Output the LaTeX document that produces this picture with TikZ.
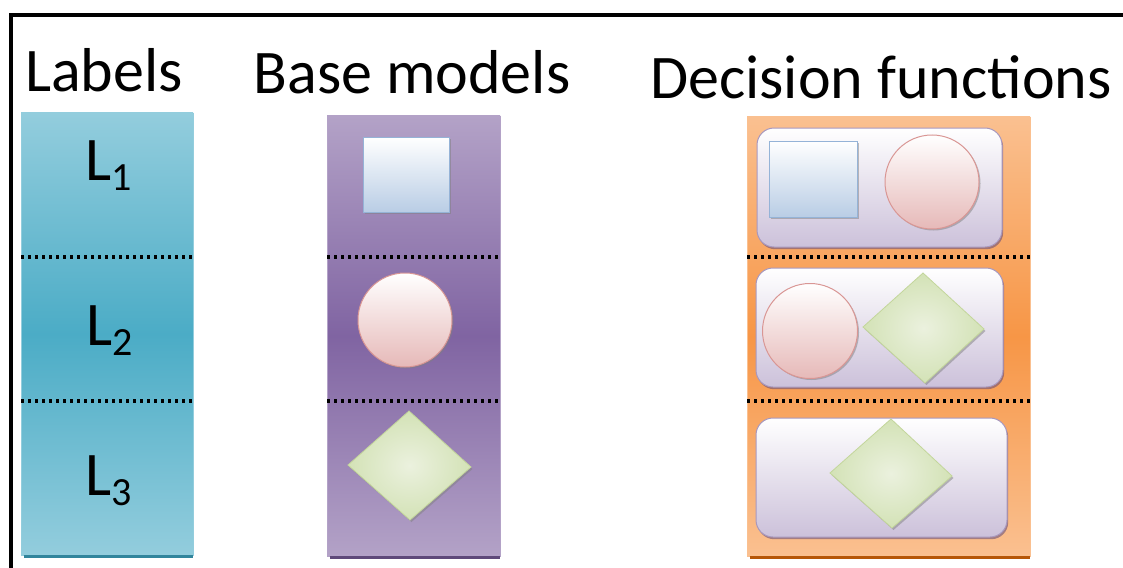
\documentclass[tikz,border=0pt]{standalone}
\usepackage{fontspec}
\setmainfont{Carlito}
\usetikzlibrary{shadows}
\definecolor{labTop}{HTML}{93CDDD}
\definecolor{labMid}{HTML}{4BACC6}
\definecolor{labDark}{HTML}{31859C}
\definecolor{purTop}{HTML}{B3A2C7}
\definecolor{purMid}{HTML}{8064A2}
\definecolor{purDark}{HTML}{5F497A}
\definecolor{orTop}{HTML}{FAC090}
\definecolor{orMid}{HTML}{F79646}
\definecolor{orDark}{HTML}{B65708}
\definecolor{sqBot}{HTML}{B9CDE5}
\definecolor{sqLine}{HTML}{95B3D7}
\definecolor{ciBot}{HTML}{E6B9B8}
\definecolor{ciLine}{HTML}{D99694}
\definecolor{diIn}{HTML}{EBF1DE}
\definecolor{diOut}{HTML}{D3E2B6}
\definecolor{diLine}{HTML}{C3D69B}
\definecolor{rrBot}{HTML}{CCC1DA}
\definecolor{rrLine}{HTML}{A898BE}
\newcommand\Lsub[1]{L\raisebox{-10pt}{\fontsize{40}{40}\selectfont #1}}
\begin{document}
\begin{tikzpicture}[x=1pt,y=-1pt,
  title/.style={anchor=base, inner sep=0pt, font=\fontsize{62}{70}\selectfont},
  lab/.style={anchor=base west, inner sep=0pt, font=\fontsize{62}{70}\selectfont},
  colbox/.style={rectangle, inner sep=0pt, draw=#1Mid!60!white, line width=0.8pt,
    top color=#1Top, bottom color=#1Top, middle color=#1Mid},
  dotline/.style={line width=3.4pt, dash pattern=on 3.4pt off 3.6pt, black},
  colfoot/.style={line width=3pt, #1},
  rrbox/.style={rectangle, inner sep=0pt, rounded corners=17pt, draw=rrLine, line width=1pt,
    top color=white, bottom color=rrBot,
    drop shadow={shadow xshift=1.2pt, shadow yshift=-2.2pt, opacity=0.55, fill=purDark}},
  sqbox/.style={rectangle, inner sep=0pt, draw=sqLine, line width=1pt,
    top color=white, bottom color=sqBot,
    drop shadow={shadow xshift=1.5pt, shadow yshift=-1.5pt, opacity=0.5}},
  cibox/.style={circle, inner sep=0pt, draw=ciLine, line width=1pt,
    top color=white, bottom color=ciBot,
    drop shadow={shadow xshift=1.5pt, shadow yshift=-1.5pt, opacity=0.5}},
  dia/.style={draw=diLine, line width=0.8pt, inner color=diIn, outer color=diOut,
    drop shadow={shadow xshift=1.5pt, shadow yshift=-2pt, opacity=0.5}}
]
\useasboundingbox (0,0) rectangle (1123,567);
\fill[white] (0,0) rectangle (1123,567);
% frame
\draw[line width=3.5pt, line cap=rect] (11,570) -- (11,15) -- (1126,15);

% titles
\node[title] (tLabels) at (104,92) {Labels};
\node[title] (tBase) at (412,94) {Base models};
\node[title] (tDec) at (881,99) {Decision functions};

% columns
\node[colbox=lab, minimum width=172pt, minimum height=442pt] (labcol) at (107,334) {};
\node[colbox=pur, minimum width=173pt, minimum height=440pt] (basecol) at (413.5,336) {};
\node[colbox=or, minimum width=283pt, minimum height=439pt] (deccol) at (888.5,336.5) {};

\draw[colfoot=labDark] ([xshift=3pt,yshift=-1.5pt]labcol.south west) -- ([yshift=-1.5pt]labcol.south east);
\draw[colfoot=purDark] ([xshift=3pt,yshift=-1.5pt]basecol.south west) -- ([yshift=-1.5pt]basecol.south east);
\draw[colfoot=orDark] ([xshift=3pt,yshift=-1.5pt]deccol.south west) -- ([yshift=-1.5pt]deccol.south east);

% dotted separators
\draw[dotline] (21,257) -- (193,257);
\draw[dotline] (21,401) -- (193,401);
\draw[dotline] (327,257) -- (500,257);
\draw[dotline] (327,401) -- (500,401);
\draw[dotline] (747,257) -- (1030,257);
\draw[dotline] (747,401) -- (1030,401);

% labels
\node[lab] (L1) at (85,180) {\Lsub{1}};
\node[lab] (L2) at (86,345) {\Lsub{2}};
\node[lab] (L3) at (85,495) {\Lsub{3}};

% base models
\node[sqbox, minimum width=86pt, minimum height=75pt] (bsq) at (406,174.5) {};
\node[cibox, minimum size=94pt] (bci) at (405,320) {};
\path[dia] (348,465) -- (409,411) -- (471,467) -- (410,520) -- cycle;

% decision functions
\node[rrbox, minimum width=245pt, minimum height=119pt] (r1) at (879.5,187.5) {};
\node[rrbox, minimum width=247pt, minimum height=119pt] (r2) at (879.5,327.5) {};
\node[rrbox, minimum width=251pt, minimum height=119pt] (r3) at (881.5,477.5) {};

\node[sqbox, minimum width=88pt, minimum height=76pt] (dsq) at (813,179) {};
\node[cibox, minimum size=94pt] (dci1) at (932,182) {};
\node[cibox, minimum size=95pt] (dci2) at (810,331) {};
\path[dia] (863,327) -- (923,273) -- (984,329) -- (925,383) -- cycle;
\path[dia] (830,473) -- (891,419) -- (952,476) -- (892,528) -- cycle;
\end{tikzpicture}
\end{document}
